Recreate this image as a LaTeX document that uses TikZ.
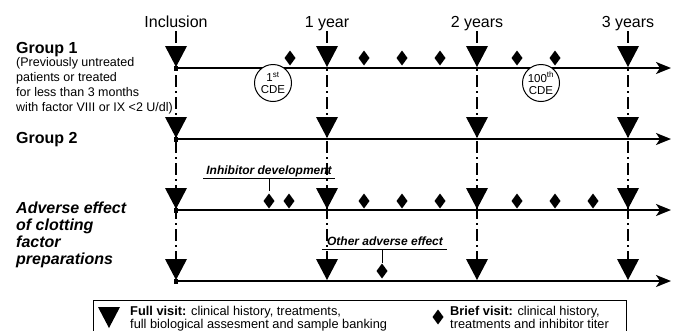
\documentclass[tikz,border=0pt]{standalone}
\usepackage{fontspec}
\setmainfont{Liberation Sans}
\usetikzlibrary{arrows.meta}
\usetikzlibrary{positioning}

\begin{document}
\begin{tikzpicture}[x=1pt, y=-1pt,
  full/.pic={\fill (-11,-21) -- (11,-21) -- (0,0) -- cycle;},
  brief/.pic={\fill (0,-7.5) -- (5.5,0) -- (0,7.5) -- (-5.5,0) -- cycle;},
  timeline/.style={line width=2pt, -{Stealth[length=15pt,width=12pt,inset=4pt]}},
  visitline/.style={line width=1.2pt, dash pattern=on 12pt off 4pt on 2pt off 4pt},
  cde/.style={circle, draw, fill=white, line width=1pt, minimum size=37pt, inner sep=0pt, align=center, font=\fontsize{11.5}{12}\selectfont},
  yeartext/.style={inner sep=0pt, font=\fontsize{16}{19}\selectfont},
  grouptext/.style={inner sep=0pt, font=\fontsize{16}{19}\selectfont\bfseries},
  subtext/.style={inner sep=0pt, font=\fontsize{12.5}{15}\selectfont},
  effecttext/.style={inner sep=0pt, font=\fontsize{16}{17}\selectfont\bfseries\itshape},
  notetext/.style={inner sep=0pt, font=\fontsize{12}{14}\selectfont\bfseries\itshape},
  legendtext/.style={inner sep=0pt, font=\fontsize{12.8}{14}\selectfont}]
\useasboundingbox (0,0) rectangle (677,330);

% visits
\foreach \x in {176,327,477,628}
  \draw[visitline] (\x,31) -- (\x,270);

\node[yeartext, anchor=base] (incl) at (176,27) {Inclusion};
\foreach \x/\t/\n in {327/1 year/yr1, 477/2 years/yr2, 628/3 years/yr3}
  \node[yeartext, anchor=base] (\n) at (\x,27) {\t};

% time axes
\foreach \y in {68,139,210,281} {
  \draw[timeline] (176,\y) -- (671,\y);
  \fill (174,\y-2) rectangle (178,\y+2.5);
  \foreach \x in {176,327,477,628}
    \pic at (\x,\y-1) {full};
}

% group 1
\foreach \x in {290,364,402,440,517,555}
  \pic at (\x,58) {brief};
\node[cde] (cde1) at (273,83) {1\textsuperscript{st}\\CDE};
\node[cde] (cde100) at (541,83) {100\textsuperscript{th}\\CDE};

\node[grouptext, anchor=base west] (grp1) at (16,53) {Group 1};
\node[subtext, anchor=base west] (sub1) at (16,66) {(Previously untreated};
\node[subtext, anchor=base west] (sub2) at (16,81) {patients or treated};
\node[subtext, anchor=base west] (sub3) at (16,96) {for less than 3 months};
\node[subtext, anchor=base west] (sub4) at (16,111) {with factor VIII or IX <2 U/dl)};

% group 2
\node[grouptext, anchor=base west] (grp2) at (16,143) {Group 2};

% adverse effects
\node[effecttext, anchor=base west] (eff1) at (16,213) {Adverse effect};
\node[effecttext, anchor=base west] (eff2) at (16,230) {of clotting};
\node[effecttext, anchor=base west] (eff3) at (16,247) {factor};
\node[effecttext, anchor=base west] (eff4) at (16,264) {preparations};

\foreach \x in {269,289,364,402,440,517,555,593}
  \pic at (\x,201) {brief};
\node[notetext, anchor=base] (inhib) at (269,174) {Inhibitor development};
\draw[line width=1pt] ([xshift=-3pt, yshift=-4pt]inhib.base west) -- ([xshift=3pt, yshift=-4pt]inhib.base east);
\coordinate (inhibtick) at (269,178);
\draw[line width=1pt] (inhibtick) -- +(0,13);

\pic at (382,271) {brief};
\node[notetext, anchor=base] (other) at (385,245) {Other adverse effect};
\draw[line width=1pt] ([xshift=-5pt, yshift=-4pt]other.base west) -- ([xshift=4pt, yshift=-4pt]other.base east);
\coordinate (othertick) at (382,249);
\draw[line width=1pt] (othertick) -- +(0,14);

% legend
\draw[line width=1pt] (93,340) -- (93,300) -- (626,300) -- (626,340);
\pic at (109,328) {full};
\node[legendtext, anchor=base west] (fullv1) at (130,315.5) {\textbf{Full visit:} clinical history, treatments,};
\node[legendtext, anchor=base west] (fullv2) at (130,328) {full biological assesment and sample banking};
\pic at (438,317) {brief};
\node[legendtext, anchor=base west] (briefv1) at (450,315.5) {\textbf{Brief visit:} clinical history,};
\node[legendtext, anchor=base west] (briefv2) at (450,328) {treatments and inhibitor titer};
\end{tikzpicture}
\end{document}
